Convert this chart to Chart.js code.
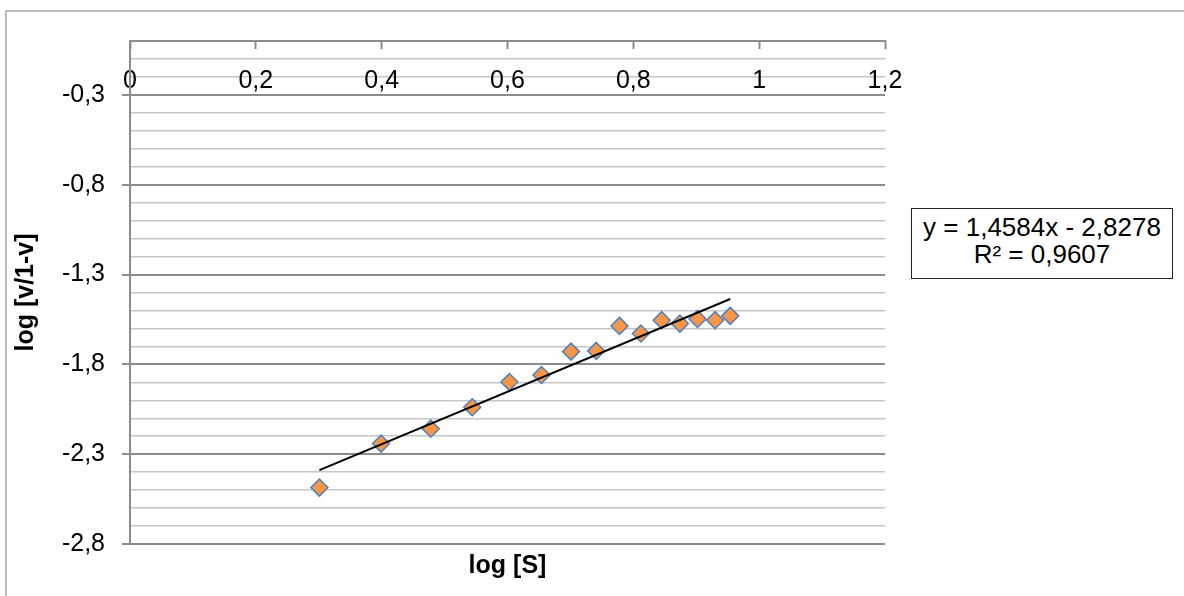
<!DOCTYPE html>
<html>
<head>
<meta charset="utf-8">
<title>log [v/1-v] vs log [S]</title>
<script src="https://cdn.jsdelivr.net/npm/chart.js@4.4.1/dist/chart.umd.min.js"></script>
<style>
    html, body { margin: 0; padding: 0; background: #fff; }
    #wrap { position: relative; width: 1184px; height: 596px; overflow: hidden; }
    /* light outer frame of the chart object (only top and left edges are visible) */
    #frame { position: absolute; left: 5px; top: 10px; right: -10px; bottom: -10px;
             border-top: 2px solid #bdbdbd; border-left: 2px solid #bdbdbd; }
    #chartBox { position: absolute; left: 0; top: 0; width: 1184px; height: 596px; }
    #equation { position: absolute; left: 911px; top: 208px; width: 262px; height: 71px;
                box-sizing: border-box; border: 1.5px solid #222; background: #fff;
                font: 26px 'Liberation Sans', Arial, sans-serif; color: #000;
                line-height: 27px; text-align: center; padding-top: 5px; }
</style>
</head>
<body>
<div id="wrap">
    <div id="frame"></div>
    <div id="chartBox"><canvas id="kineticsChart"></canvas></div>
    <div id="equation"><div id="eqLine"></div><div id="r2Line"></div></div>
</div>
<script>
// Measured points: log [S] and log [v/1-v]
const logS = [0.301, 0.399, 0.478, 0.544, 0.603, 0.654, 0.701, 0.741, 0.778, 0.812, 0.845, 0.874, 0.902, 0.930, 0.954];
const logV = [-2.486, -2.241, -2.158, -2.039, -1.898, -1.859, -1.729, -1.725, -1.586, -1.628, -1.554, -1.573, -1.547, -1.554, -1.530];

// Linear trendline end points (as drawn) and its label values
const trendX = [0.301, 0.954];
const trendY = [-2.389, -1.436];
const slope = 1.4584;
const intercept = -2.8278;
const rSquared = 0.9607;

// Axis ticks and labels
const xTickValues = [0, 0.2, 0.4, 0.6, 0.8, 1, 1.2];
const xTickLabels = ['0', '0,2', '0,4', '0,6', '0,8', '1', '1,2'];
const yMajorTicks = [-2.8, -2.3, -1.8, -1.3, -0.8, -0.3];
const yTickLabels = ['-2,8', '-2,3', '-1,8', '-1,3', '-0,8', '-0,3'];
const yMin = -2.8;
const yMax = 0;
const yMinorStep = 0.1;

const FONT = "'Liberation Sans', Arial, sans-serif";
const MAJOR_COLOR = '#8c8c8c';
const MINOR_COLOR = '#c6c6c6';

function majorIndex(value) {
    return yMajorTicks.findIndex(v => Math.abs(v - value) < 1e-6);
}

function fmt(n, digits) {
    return n.toFixed(digits).replace('.', ',');
}

const pointData = logS.map((x, i) => ({ x: x, y: logV[i] }));
const trendData = trendX.map((x, i) => ({ x: x, y: trendY[i] }));

Chart.defaults.font.family = FONT;
Chart.defaults.color = '#000';

const chartConfig = {
    type: 'scatter',
    data: {
        datasets: [
            {
                label: 'Trendline',
                data: trendData,
                showLine: true,
                borderColor: '#000',
                borderWidth: 2,
                pointRadius: 0,
                fill: false,
                order: 0
            },
            {
                label: 'log [v/1-v]',
                data: pointData,
                pointStyle: 'rectRot',
                pointRadius: 8.5,
                pointHoverRadius: 8.5,
                backgroundColor: '#f79646',
                borderColor: '#4f81bd',
                borderWidth: 1.5,
                order: 1
            }
        ]
    },
    options: {
        responsive: true,
        maintainAspectRatio: false,
        animation: false,
        layout: { padding: { left: 0, top: 0, right: 299, bottom: 0 } },
        plugins: {
            legend: { display: false },
            tooltip: { enabled: false }
        },
        scales: {
            x: {
                type: 'linear',
                position: 'top',
                min: 0,
                max: 1.2,
                afterBuildTicks: function(scale) {
                    scale.ticks = xTickValues.map(v => ({ value: v }));
                },
                afterFit: function(scale) {
                    scale.height = 41;
                },
                ticks: {
                    mirror: true,
                    padding: 25,
                    autoSkip: false,
                    maxRotation: 0,
                    font: { size: 25 },
                    color: '#000',
                    callback: function(value, index) {
                        return xTickLabels[index];
                    }
                },
                grid: {
                    drawOnChartArea: false,
                    drawTicks: true,
                    tickLength: -8,
                    tickWidth: 2,
                    tickColor: MAJOR_COLOR,
                    color: MAJOR_COLOR
                },
                border: { display: true, color: MAJOR_COLOR, width: 2 }
            },
            xTitle: {
                type: 'linear',
                position: 'bottom',
                min: 0,
                max: 1.2,
                afterFit: function(scale) {
                    scale.height = 52;
                },
                ticks: { display: false },
                grid: { display: false },
                border: { display: false },
                title: {
                    display: true,
                    text: 'log [S]',
                    color: '#000',
                    font: { size: 25, weight: 'bold' },
                    padding: { top: 0, bottom: 15 }
                }
            },
            y: {
                type: 'linear',
                position: 'left',
                min: yMin,
                max: yMax,
                afterBuildTicks: function(scale) {
                    const ticks = [];
                    const n = Math.round((yMax - yMin) / yMinorStep);
                    for (let i = 0; i <= n; i++) {
                        ticks.push({ value: +(yMin + i * yMinorStep).toFixed(4) });
                    }
                    scale.ticks = ticks;
                },
                afterFit: function(scale) {
                    scale.width = 130;
                },
                ticks: {
                    padding: 17,
                    autoSkip: false,
                    font: { size: 25 },
                    color: '#000',
                    callback: function(value) {
                        const i = majorIndex(value);
                        return i >= 0 ? yTickLabels[i] : '';
                    }
                },
                grid: {
                    drawTicks: true,
                    tickLength: 8,
                    color: function(ctx) {
                        return majorIndex(ctx.tick.value) >= 0 ? MAJOR_COLOR : MINOR_COLOR;
                    },
                    lineWidth: function(ctx) {
                        return majorIndex(ctx.tick.value) >= 0 ? 2 : 1.5;
                    },
                    tickColor: function(ctx) {
                        return majorIndex(ctx.tick.value) >= 0 ? MAJOR_COLOR : 'rgba(0,0,0,0)';
                    },
                    tickWidth: 2
                },
                border: { display: true, color: MAJOR_COLOR, width: 2 },
                title: {
                    display: true,
                    text: 'log [v/1-v]',
                    color: '#000',
                    font: { size: 25, weight: 'bold' },
                    padding: { top: 11, bottom: 0 }
                }
            }
        }
    }
};

const kineticsChart = new Chart(document.getElementById('kineticsChart'), chartConfig);

// Trendline label box
document.getElementById('eqLine').textContent = 'y = ' + fmt(slope, 4) + 'x - ' + fmt(-intercept, 4);
document.getElementById('r2Line').textContent = 'R\u00b2 = ' + fmt(rSquared, 4);
</script>
</body>
</html>
